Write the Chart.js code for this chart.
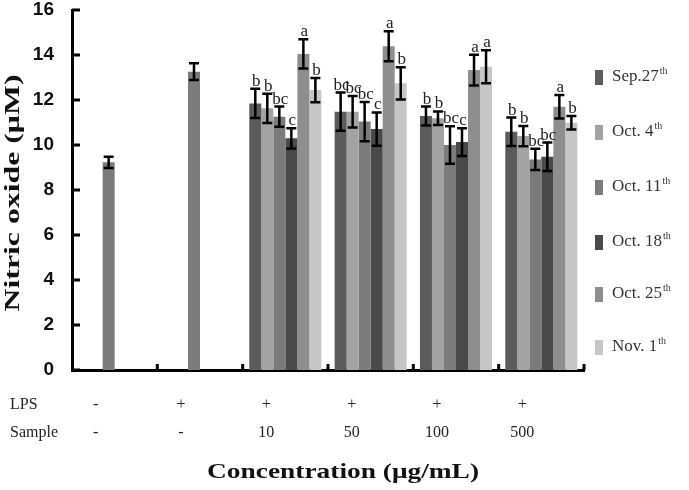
<!DOCTYPE html>
<html>
<head>
<meta charset="utf-8">
<script src="https://cdn.jsdelivr.net/npm/chart.js@4.4.1/dist/chart.umd.min.js"></script>
<style>
  html, body { margin: 0; padding: 0; background: #fff; }
  #wrap { width: 689px; height: 490px; position: relative; }
</style>
</head>
<body>
<div id="wrap"><canvas id="c" width="689" height="490"></canvas></div>
<script>
// ---- data ----
const categories = ['LPS-', 'LPS+', '10', '50', '100', '500'];
const lpsRow = ['-', '+', '+', '+', '+', '+'];
const sampleRow = ['-', '-', '10', '50', '100', '500'];
const yTicks = [0, 2, 4, 6, 8, 10, 12, 14, 16];

const seriesNames = ['Sep.27', 'Oct. 4', 'Oct. 11', 'Oct. 18', 'Oct. 25', 'Nov. 1'];
const seriesSup = 'th';

const control = [9.23, 13.26];
const controlErr = [0.25, 0.37];

const sep27 = [11.85, 11.48, 11.29, 10.59];
const oct4  = [11.63, 11.48, 11.19, 10.40];
const oct11 = [11.26, 11.04, 10.00, 9.36];
const oct18 = [10.30, 10.71, 10.13, 9.48];
const oct25 = [14.05, 14.39, 13.33, 11.70];
const nov1  = [12.44, 12.74, 13.48, 10.99];

const sep27Err = [0.65, 0.85, 0.42, 0.63];
const oct4Err  = [0.65, 0.70, 0.30, 0.45];
const oct11Err = [0.45, 0.87, 0.83, 0.47];
const oct18Err = [0.45, 0.74, 0.62, 0.63];
const oct25Err = [0.65, 0.67, 0.68, 0.52];
const nov1Err  = [0.54, 0.72, 0.73, 0.30];

const sep27Sig = ['b', 'bc', 'b', 'b'];
const oct4Sig  = ['b', 'bc', 'b', 'b'];
const oct11Sig = ['bc', 'bc', 'bc', 'bc'];
const oct18Sig = ['c', 'c', 'c', 'bc'];
const oct25Sig = ['a', 'a', 'a', 'a'];
const nov1Sig  = ['b', 'b', 'a', 'b'];

const colors = ['#5c5c5c', '#a3a3a3', '#7b7b7b', '#4a4a4a', '#8e8e8e', '#c6c6c6'];

// ---- build ----
const seriesVals = [sep27, oct4, oct11, oct18, oct25, nov1];
const seriesErrs = [sep27Err, oct4Err, oct11Err, oct18Err, oct25Err, nov1Err];
const seriesSigs = [sep27Sig, oct4Sig, oct11Sig, oct18Sig, oct25Sig, nov1Sig];
const CONTROL_SERIES = 2;

const datasets = seriesNames.map((name, k) => {
  const head = k === CONTROL_SERIES ? control.slice() : [null, null];
  const headErr = k === CONTROL_SERIES ? controlErr.slice() : [null, null];
  return {
    label: name,
    data: head.concat(seriesVals[k]),
    errors: headErr.concat(seriesErrs[k]),
    sig: [null, null].concat(seriesSigs[k]),
    backgroundColor: colors[k],
    borderWidth: 0,
    categoryPercentage: 0.845,
    barPercentage: 1.0
  };
});

const SERIF = "'Liberation Serif', 'Times New Roman', serif";

const extrasPlugin = {
  id: 'extras',
  afterDatasetsDraw(chart) {
    const ctx = chart.ctx;
    const y = chart.scales.y;
    const x = chart.scales.x;
    const area = chart.chartArea;
    ctx.save();
    chart.data.datasets.forEach((ds, di) => {
      const meta = chart.getDatasetMeta(di);
      meta.data.forEach((bar, i) => {
        const v = ds.data[i];
        if (v === null || v === undefined) return;
        const e = ds.errors[i] || 0;
        const yt = y.getPixelForValue(v + e);
        const yb = y.getPixelForValue(v - e);
        const cx = bar.x;
        ctx.strokeStyle = '#000';
        ctx.lineWidth = 2.5;
        ctx.beginPath();
        ctx.moveTo(cx, yt); ctx.lineTo(cx, yb);
        ctx.moveTo(cx - 5, yt); ctx.lineTo(cx + 5, yt);
        ctx.moveTo(cx - 5, yb); ctx.lineTo(cx + 5, yb);
        ctx.stroke();
        if (ds.sig[i]) {
          ctx.fillStyle = '#222';
          ctx.font = '17px ' + SERIF;
          ctx.textAlign = 'center';
          ctx.textBaseline = 'alphabetic';
          ctx.fillText(ds.sig[i], cx + 1, yt - 3);
        }
      });
    });
    ctx.strokeStyle = '#000';
    ctx.lineWidth = 3;
    ctx.beginPath();
    yTicks.forEach(t => {
      const py = y.getPixelForValue(t);
      ctx.moveTo(area.left, py); ctx.lineTo(area.left + 8, py);
    });
    for (let i = 1; i <= categories.length; i++) {
      const px = i === categories.length ? area.right
        : (x.getPixelForValue(i - 1) + x.getPixelForValue(i)) / 2;
      ctx.moveTo(px, area.bottom); ctx.lineTo(px, area.bottom - 6);
    }
    ctx.stroke();
    ctx.restore();
  },
  afterDraw(chart) {
    const ctx = chart.ctx;
    ctx.save();
    ctx.fillStyle = '#222';
    ctx.font = '16px ' + SERIF;
    ctx.textAlign = 'left';
    ctx.textBaseline = 'middle';
    ctx.fillText('LPS', 10, 405);
    ctx.fillText('Sample', 10, 433);

    ctx.font = 'bold 22px ' + SERIF;
    ctx.fillStyle = '#111';
    let t = 'Concentration (\u03bcg/mL)';
    let w = ctx.measureText(t).width;
    ctx.save();
    ctx.translate(343, 472);
    ctx.scale(272 / w, 1);
    ctx.textAlign = 'center';
    ctx.fillText(t, 0, 0);
    ctx.restore();

    t = 'Nitric oxide (\u03bcM)';
    w = ctx.measureText(t).width;
    ctx.save();
    ctx.translate(13, 193);
    ctx.rotate(-Math.PI / 2);
    ctx.scale(237 / w, 1);
    ctx.textAlign = 'center';
    ctx.fillText(t, 0, 0);
    ctx.restore();

    const ly = [77, 132, 187, 242, 294, 347];
    chart.data.datasets.forEach((ds, k) => {
      ctx.fillStyle = ds.backgroundColor;
      ctx.fillRect(595, ly[k] - 7, 8, 15);
      ctx.fillStyle = '#333';
      ctx.font = '17px ' + SERIF;
      ctx.textAlign = 'left';
      ctx.textBaseline = 'middle';
      const lx = 612;
      ctx.fillText(ds.label, lx, ly[k]);
      const tw = ctx.measureText(ds.label).width;
      ctx.font = '10px ' + SERIF;
      ctx.fillText(seriesSup, lx + tw + 1, ly[k] - 6);
    });
    ctx.restore();
  }
};

new Chart(document.getElementById('c'), {
  type: 'bar',
  data: {
    labels: categories.map((c, i) => [lpsRow[i], sampleRow[i]]),
    datasets: datasets
  },
  options: {
    responsive: false,
    devicePixelRatio: 1,
    animation: false,
    layout: { padding: { top: 10, right: 105, bottom: 0, left: 0 } },
    plugins: { legend: { display: false }, tooltip: { enabled: false } },
    scales: {
      x: {
        grid: { display: false },
        border: { display: true, color: '#000', width: 3 },
        ticks: {
          color: '#222',
          font: { family: SERIF, size: 16, lineHeight: '28px' },
          padding: 13,
          labelOffset: -19,
          maxRotation: 0,
          autoSkip: false
        },
        afterFit(scale) {
          scale.height = 120;
          scale.paddingLeft = 0; scale.paddingRight = 0;
        }
      },
      y: {
        min: 0, max: 16,
        grid: { display: false },
        border: { display: true, color: '#000', width: 3 },
        ticks: {
          stepSize: 2,
          color: '#111',
          padding: 10,
          font: { family: "'Liberation Sans', Arial, sans-serif", size: 19, weight: 'bold' }
        },
        afterFit(scale) {
          scale.width = 72;
          scale.paddingTop = 0; scale.paddingBottom = 0;
        }
      }
    }
  },
  plugins: [extrasPlugin]
});
</script>
</body>
</html>
